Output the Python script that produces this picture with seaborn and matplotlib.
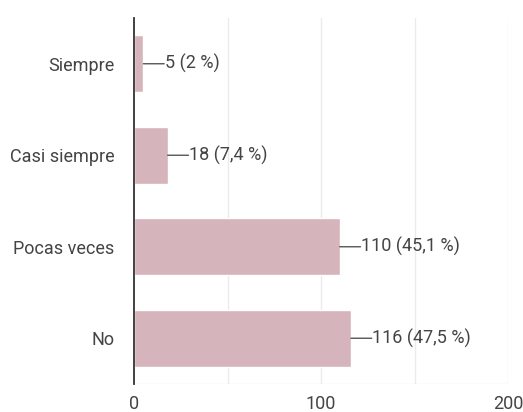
import matplotlib
matplotlib.use("Agg")
import matplotlib.pyplot as plt
import seaborn as sns
import pandas as pd

categories = ["Siempre", "Casi siempre", "Pocas veces", "No"]
counts = [5, 18, 110, 116]
percent_labels = ["2 %", "7,4 %", "45,1 %", "47,5 %"]
x_ticks = [0, 100, 200]

df = pd.DataFrame({"cat": categories, "n": counts})

sns.set_theme(style="white")
plt.rcParams['font.family'] = ['Roboto', 'DejaVu Sans']

fig = plt.figure(figsize=(5.23, 4.12), dpi=100)
ax = fig.add_axes([134/523, 1-384/412, (508-134)/523, (384-18)/412])

sns.barplot(data=df, y="cat", x="n", orient="h", color="#d5b4bc",
            saturation=1, width=0.62, ax=ax, order=categories)

ax.set_xlim(0, 200)
ax.set_ylim(3.5, -0.5)
ax.set_xticks(x_ticks)
ax.set_xticklabels([str(t) for t in x_ticks])
for gx in [50, 100, 150, 200]:
    ax.axvline(gx, color="#ebebeb", lw=1, zorder=0)
ax.axhline(3.5, color="#ebebeb", lw=1, zorder=0)

for s in ["top", "right", "bottom"]:
    ax.spines[s].set_visible(False)
ax.spines["left"].set_color("#333333")
ax.spines["left"].set_linewidth(1.3)

ax.set_xlabel("")
ax.set_ylabel("")
ax.tick_params(axis="both", length=0, labelsize=13, colors="#444444")
ax.tick_params(axis="y", pad=14)
ax.tick_params(axis="x", pad=8)

for i, (v, p) in enumerate(zip(counts, percent_labels)):
    ax.annotate("", xy=(v, i), xycoords="data",
                xytext=(15, 0), textcoords="offset points",
                arrowprops=dict(arrowstyle="-", color="#555555", lw=1,
                                shrinkA=0, shrinkB=0))
    ax.annotate(f"{v} ({p})", xy=(v, i), xycoords="data",
                xytext=(15.5, 0), textcoords="offset points",
                ha="left", va="center", fontsize=13, color="#444444")

fig.savefig("out.png", dpi=100)
